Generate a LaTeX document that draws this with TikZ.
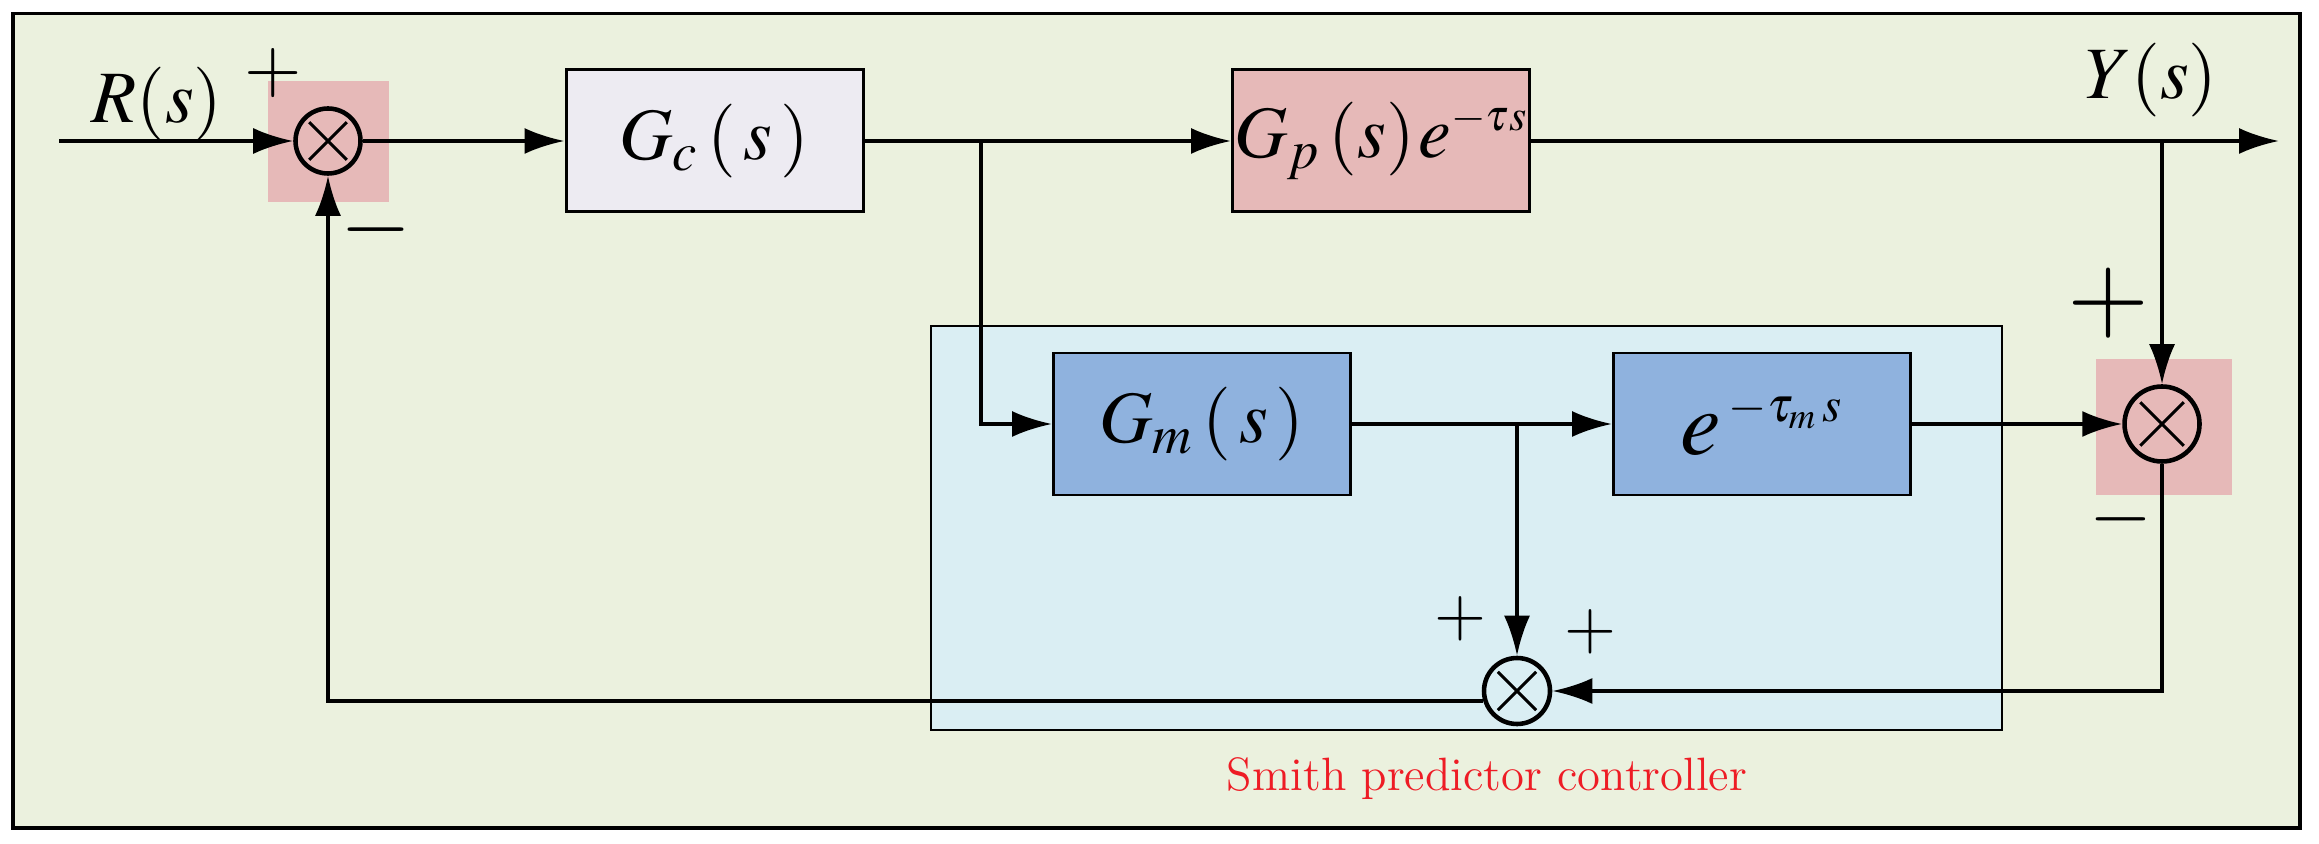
\documentclass[tikz,border=0pt]{standalone}
\usepackage{mathptmx}
\usetikzlibrary{arrows.meta,calc}
\definecolor{bgfill}{HTML}{EBF1DE}
\definecolor{sumfill}{HTML}{E6B9B8}
\definecolor{gcfill}{HTML}{EDEBF2}
\definecolor{smithfill}{HTML}{DAEEF3}
\definecolor{modfill}{HTML}{8FB2DE}
\definecolor{lblred}{HTML}{EE1C25}
\newcommand{\lblfont}{\fontsize{21}{25}\selectfont}
\tikzset{
  blk/.style={draw, line width=0.85pt, minimum width=2.97cm, minimum height=1.42cm, inner sep=0pt, font=\lblfont},
  sumx/.style={circle, draw, line width=1.3pt, inner sep=0pt, minimum size=#1,
    path picture={\draw [line width=0.85pt]
      ($(path picture bounding box.center)!0.58!(path picture bounding box.north east)$) --
      ($(path picture bounding box.center)!0.58!(path picture bounding box.south west)$)
      ($(path picture bounding box.center)!0.58!(path picture bounding box.north west)$) --
      ($(path picture bounding box.center)!0.58!(path picture bounding box.south east)$);}},
  sig/.style={line width=1.05pt, -{Latex[length=4mm,width=2.6mm]}},
  sgn/.style={inner sep=0pt, font=\fontsize{#1}{#1}\selectfont}
}

\begin{document}
\begin{tikzpicture}
\useasboundingbox (0,0) rectangle (23.19,8.43);
\draw [fill=bgfill, line width=0.9pt] (0.13,0.15) rectangle (23.00,8.295);
\draw [fill=smithfill, line width=0.8pt] (9.31,1.13) rectangle (20.02,5.17);
\fill [sumfill] (2.68,6.41) rectangle (3.89,7.62);
\fill [sumfill] (20.96,3.48) rectangle (22.32,4.84);
% forward path
\coordinate (inp) at (0.59,7.02);
\node [sumx=0.65cm] (sumin) at (3.28,7.02) {};
\node [blk, fill=gcfill] (gc) at (7.145,7.02) {$G_{c}\,(\,s\,)$};
\node [blk, fill=sumfill] (gp) at (13.81,7.02) {$G_{p}\,(s)\mkern1mu e^{\scriptscriptstyle -\tau s}$};
\coordinate (outp) at (22.79,7.02);
\node [anchor=base, font=\lblfont] (rlbl) at (1.57,7.20) {$R(s)$};
\node [anchor=base, font=\lblfont] (ylbl) at (21.51,7.44) {$Y(s)$};
% smith predictor
\node [blk, fill=modfill] (gm) at (12.02,4.19) {$G_{m}\,(\,s\,)$};
\node [blk, fill=modfill, font=\fontsize{26}{28}\selectfont] (dly) at (17.62,4.19) {$e^{\,\mbox{\fontsize{14}{16}\selectfont$-\tau_{m}\,s$}}$};
\node [sumx=0.75cm] (sumy) at (21.62,4.19) {};
\node [sumx=0.66cm] (sumfb) at (15.17,1.52) {};
\coordinate (b1) at (9.81,7.02);
\coordinate (b2) at (sumy |- outp);
\coordinate (b3) at (sumfb |- gm);
% signs
\node [sgn=21] (p1) at (2.73,7.70) {$+$};
\node [sgn=26] (m1) at (3.76,6.13) {$-$};
\node [sgn=30] (p2) at (21.08,5.40) {$+$};
\node [sgn=23] (m2) at (21.21,3.24) {$-$};
\node [sgn=19] (p3) at (14.60,2.24) {$+$};
\node [sgn=19] (p4) at (15.90,2.11) {$+$};
\node [anchor=base, text=lblred, font=\fontsize{13.3}{16}\selectfont] (smithlbl) at (14.87,0.53) {Smith predictor controller};
% connectors
\draw [sig] (inp) -- (sumin);
\draw [sig] (sumin) -- (gc);
\draw [sig] (gc) -- (gp);
\draw [sig] (gp) -- (outp);
\draw [sig] (b1) |- (gm.west);
\draw [sig] (b2) -- (sumy.north);
\draw [sig] (gm) -- (dly);
\draw [sig] (b3) -- (sumfb.north);
\draw [sig] (dly) -- (sumy);
\draw [sig] (sumy.south) |- (sumfb.east);
\draw [sig] (sumfb.196) -| (sumin.south);
\end{tikzpicture}
\end{document}
